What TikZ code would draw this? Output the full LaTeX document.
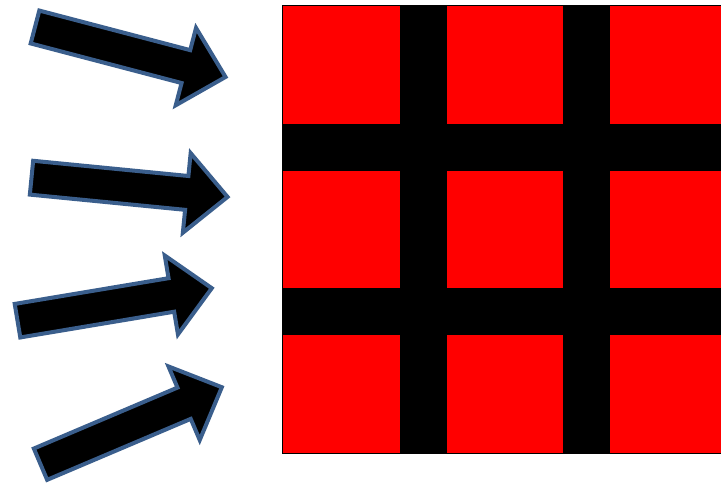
\documentclass[tikz,border=0pt]{standalone}
\usepackage{tikz}

\definecolor{arrowblue}{RGB}{58,94,140}
\definecolor{cellred}{RGB}{255,0,0}

\tikzset{
  blockarrow/.style={fill=black,draw=arrowblue,line width=4,line join=miter},
  cell/.style={fill=cellred}
}

\begin{document}
\begin{tikzpicture}[x=1pt,y=-1pt]
  \useasboundingbox (0,0) rectangle (721,486);
  % grid
  \fill[black] (282,5) rectangle (721,454);
  \foreach \xa/\xb in {283/400,447/563,610/721}
    \foreach \ya/\yb in {6/124,171/288,335/453}
      \fill[cell] (\xa,\ya) rectangle (\xb,\yb);
  % arrows: tail x / tail y / angle
  \foreach \tx/\ty/\ang in {35/27/-14.7, 31.5/177.7/-5.6, 17.5/320.7/9.5, 40.5/464.2/23}
    \draw[blockarrow,shift={(\tx,\ty)},rotate=\ang]
      (0,-17) -- (156,-17) -- (156,-40) -- (197,0) -- (156,40) -- (156,17) -- (0,17) -- cycle;
\end{tikzpicture}
\end{document}
